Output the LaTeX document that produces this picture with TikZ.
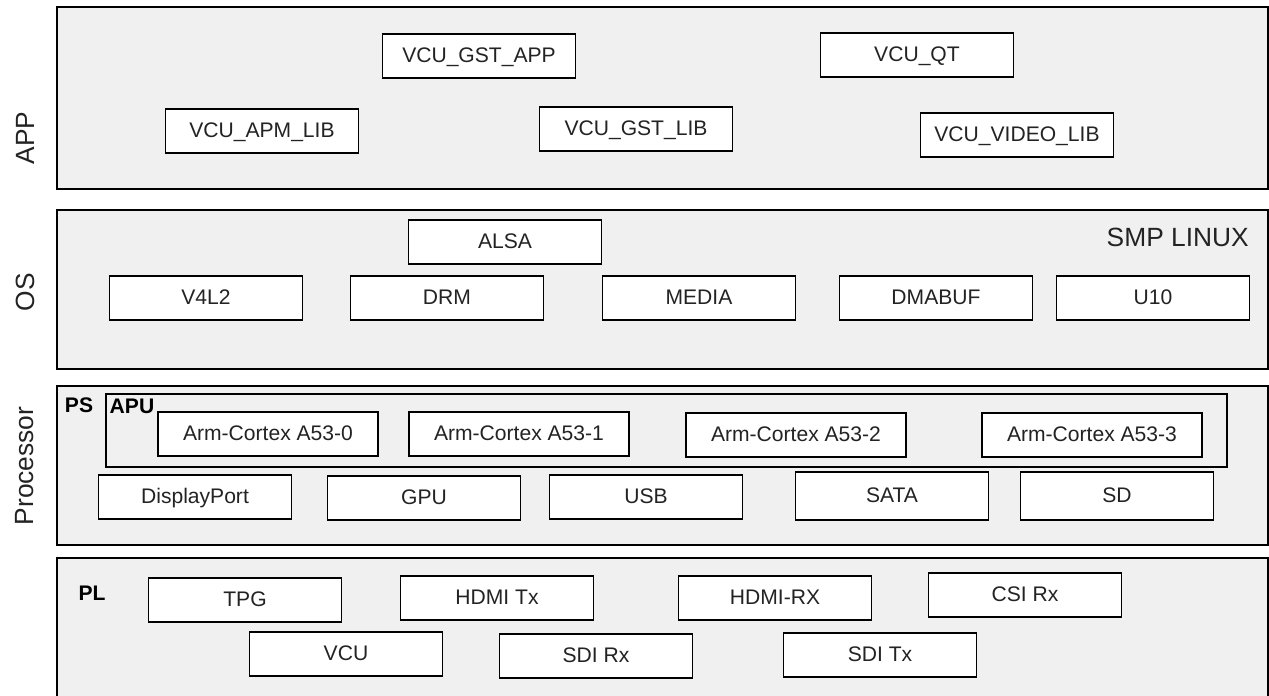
\documentclass[tikz,border=0pt]{standalone}
\usepackage{fontspec}
\setmainfont{Liberation Sans}
\usepackage{xcolor}
\usepackage{tikz}
\usetikzlibrary{positioning}
\definecolor{layergray}{RGB}{240,240,240}
\definecolor{inkgray}{RGB}{35,35,35}

\begin{document}
\begin{tikzpicture}[x=0.02cm, y=-0.02cm,
    layer/.style={draw=black, line width=1.4pt, fill=layergray},
    blk/.style={draw=black, line width=1.1pt, fill=white, text=inkgray, inner sep=0pt,
        minimum width=3.86cm, minimum height=0.88cm, text height=0.72em, text depth=0pt,
        font=\fontsize{12}{14}\selectfont},
    armblk/.style={blk, minimum width=4.4cm, minimum height=0.88cm},
    side/.style={rotate=90, text=inkgray, font=\fontsize{15}{17}\selectfont},
    tag/.style={text=black, inner sep=0pt, font=\bfseries\fontsize{12}{14}\selectfont}]
    \useasboundingbox (0,0) rectangle (1269,696);

    % layers
    \draw[layer] (57,7) rectangle (1268,189);
    \draw[layer] (57,210) rectangle (1268,369);
    \draw[layer] (57,386) rectangle (1268,545);
    \fill[layergray] (57,558) rectangle (1268,696);
    \draw[line width=1.4pt] (57,697) -- (57,558) -- (1268,558) -- (1268,697);
    \draw[line width=0.6pt] (106,394) rectangle (1227,467);

    % layer names
    \node[side] (appname) at (25,138) {APP};
    \node[side] (osname) at (25,292) {OS};
    \node[side] (procname) at (25,466) {Processor};
    \node[anchor=east, text=inkgray, font=\fontsize{15}{17}\selectfont] (smp) at (1255,237) {SMP LINUX};
    \node[tag] (ps) at (79,405) {PS};
    \node[tag] (apu) at (132,406) {APU};
    \node[tag] (pl) at (92,593) {PL};

    % APP
    \node[blk] (gstapp) at (479,56) {VCU\_GST\_APP};
    \node[blk] (qt) at (917,55) {VCU\_QT};
    \node[blk] (apmlib) at (262,131) {VCU\_APM\_LIB};
    \node[blk] (gstlib) at (636,129) {VCU\_GST\_LIB};
    \node[blk] (videolib) at (1017,135) {VCU\_VIDEO\_LIB};

    % OS
    \node[blk] (alsa) at (505,242) {ALSA};
    \node[blk] (v4l2) at (206,298) {V4L2};
    \node[blk] (drm) at (447,298) {DRM};
    \node[blk] (media) at (699,298) {MEDIA};
    \node[blk] (dmabuf) at (936,298) {DMABUF};
    \node[blk] (u10) at (1153,298) {U10};

    % Processor
    \node[armblk] (core0) at (268,434) {Arm-Cortex A53-0};
    \node[armblk] (core1) at (519,434) {Arm-Cortex A53-1};
    \node[armblk] (core2) at (796,435) {Arm-Cortex A53-2};
    \node[armblk] (core3) at (1092,435) {Arm-Cortex A53-3};
    \node[blk] (dport) at (195,497) {DisplayPort};
    \node[blk] (gpu) at (424,498) {GPU};
    \node[blk] (usb) at (646,497) {USB};
    \node[blk, minimum height=0.97cm] (sata) at (892,496) {SATA};
    \node[blk, minimum height=0.97cm] (sd) at (1117,496) {SD};

    % PL
    \node[blk] (tpg) at (245,600) {TPG};
    \node[blk] (hdmitx) at (497,598) {HDMI Tx};
    \node[blk] (hdmirx) at (775,598) {HDMI-RX};
    \node[blk] (csirx) at (1025,595) {CSI Rx};
    \node[blk] (vcu) at (346,654) {VCU};
    \node[blk] (sdirx) at (596,656) {SDI Rx};
    \node[blk] (sditx) at (880,655) {SDI Tx};
\end{tikzpicture}
\end{document}
